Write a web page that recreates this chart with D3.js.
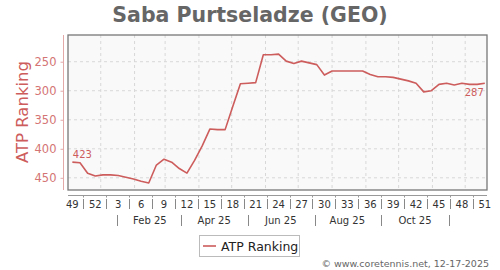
<!DOCTYPE html>
<html>
<head>
<meta charset="utf-8">
<script src="https://cdn.jsdelivr.net/npm/d3@7"></script>
<style>
    body { margin: 0; background: #fff; }
    svg { font-family: "DejaVu Sans", sans-serif; display: block; }
</style>
</head>
<body>
<div id="chart"></div>
<script>

// weekly ranking dates (plotted positions)
const dates = [
    "2024-12-06", "2024-12-13", "2024-12-20", "2024-12-27",
    "2025-01-03", "2025-01-10", "2025-01-17", "2025-01-24", "2025-01-31",
    "2025-02-07", "2025-02-14", "2025-02-21", "2025-02-28",
    "2025-03-07", "2025-03-14", "2025-03-21", "2025-03-28",
    "2025-04-04", "2025-04-11", "2025-04-18", "2025-04-25",
    "2025-05-02", "2025-05-09", "2025-05-16", "2025-05-23", "2025-05-30",
    "2025-06-06", "2025-06-13", "2025-06-20", "2025-06-27",
    "2025-07-04", "2025-07-11", "2025-07-18", "2025-07-25",
    "2025-08-01", "2025-08-08", "2025-08-15", "2025-08-22", "2025-08-29",
    "2025-09-05", "2025-09-12", "2025-09-19", "2025-09-26",
    "2025-10-03", "2025-10-10", "2025-10-17", "2025-10-24", "2025-10-31",
    "2025-11-07", "2025-11-14", "2025-11-21", "2025-11-28",
    "2025-12-05", "2025-12-12", "2025-12-19"
]

const rankings = [
    423, 424, 442, 447, 445, 445, 446, 449, 452, 456, 459, 428, 418, 423,
    434, 442, 420, 395, 366, 367, 367, 327, 288, 287, 286, 238, 238, 237,
    249, 253, 249, 252, 255, 273, 266, 266, 266, 266, 266, 272, 276, 276,
    277, 280, 283, 287, 302, 300, 289, 287, 290, 287, 289, 289, 287
]

const weekLabels = ["49", "52", "3", "6", "9", "12", "15", "18", "21", "24",
    "27", "30", "33", "36", "39", "42", "45", "48", "51"]

const monthLabels = ["Feb 25", "Apr 25", "Jun 25", "Aug 25", "Oct 25"]
const monthLabelDates = ["2025-02-15", "2025-04-15", "2025-06-15", "2025-08-15", "2025-10-16"]
const monthSeparators = ["2025-01-16", "2025-03-16", "2025-05-16", "2025-07-16", "2025-09-15", "2025-11-16"]

const yTicks = [250, 300, 350, 400, 450]

const parse = d3.timeParse("%Y-%m-%d")
const data = dates.map((d, i) => ({date: parse(d), value: rankings[i]}))

const width = 500, height = 270
const plot = {left: 68, right: 487, top: 35, bottom: 190}
const lineColor = '#cd5c5c'

const svg = d3.select('#chart').append('svg')
    .attr('width', width)
    .attr('height', height)

// scales
const x = d3.scaleTime()
    .domain([parse("2024-12-02"), parse("2025-12-21")])
    .range([plot.left, plot.right])

const y = d3.scaleLinear()
    .domain([204, 471])
    .range([plot.top, plot.bottom])

// title
svg.append('text')
    .attr('x', 250)
    .attr('y', 22)
    .attr('text-anchor', 'middle')
    .attr('font-size', 20.5)
    .attr('font-weight', 'bold')
    .attr('fill', '#666')
    .text('Saba Purtseladze (GEO)')

// plot background
svg.append('rect')
    .attr('x', plot.left)
    .attr('y', plot.top)
    .attr('width', plot.right - plot.left)
    .attr('height', plot.bottom - plot.top)
    .attr('fill', '#f9f9f9')

// grid lines
const monthStarts = d3.timeMonth.range(parse("2025-01-01"), parse("2025-12-02"))
svg.append('g').selectAll('line').data(monthStarts).enter().append('line')
    .attr('x1', d => x(d)).attr('x2', d => x(d))
    .attr('y1', plot.top).attr('y2', plot.bottom)
    .attr('stroke', '#d8d8d8')
    .attr('stroke-dasharray', '3,3')

svg.append('g').selectAll('line').data(yTicks).enter().append('line')
    .attr('x1', plot.left).attr('x2', plot.right)
    .attr('y1', d => y(d)).attr('y2', d => y(d))
    .attr('stroke', '#d8d8d8')
    .attr('stroke-dasharray', '3,3')

// plot border
svg.append('rect')
    .attr('x', plot.left)
    .attr('y', plot.top)
    .attr('width', plot.right - plot.left)
    .attr('height', plot.bottom - plot.top)
    .attr('fill', 'none')
    .attr('stroke', '#777')
    .attr('stroke-width', 1.3)

// y axis
const yAxis = svg.append('g')
    .attr('transform', `translate(63.5,0)`)
    .call(d3.axisLeft(y).tickValues(yTicks).tickSize(3).tickPadding(4))
yAxis.select('.domain').remove()
yAxis.append('line')
    .attr('y1', plot.top).attr('y2', plot.bottom)
    .attr('stroke', '#e3a9a9')
yAxis.selectAll('.tick line').attr('stroke', '#e3a9a9')
yAxis.selectAll('.tick text')
    .attr('font-family', '"DejaVu Sans", sans-serif')
    .attr('font-size', 11.5)
    .attr('fill', '#d47474')

svg.append('text')
    .attr('transform', `translate(28,112) rotate(-90)`)
    .attr('text-anchor', 'middle')
    .attr('font-size', 16.5)
    .attr('fill', lineColor)
    .text('ATP Ranking')

// x axis: week numbers
const weekDates = data.filter((d, i) => i % 3 === 0).map(d => d.date)
const axisY = 195.5

svg.append('line')
    .attr('x1', plot.left).attr('x2', plot.right)
    .attr('y1', axisY).attr('y2', axisY)
    .attr('stroke', '#999')

const xg = svg.append('g')
xg.selectAll('text').data(weekDates).enter().append('text')
    .attr('x', d => x(d))
    .attr('y', 207.5)
    .attr('text-anchor', 'middle')
    .attr('font-size', 10)
    .attr('fill', '#333')
    .text((d, i) => weekLabels[i])

// separators between week labels (half-way)
const weekSeps = weekDates.slice(1).map(d => d3.timeDay.offset(d, -10.5))
xg.selectAll('line.sep').data(weekSeps).enter().append('line')
    .attr('class', 'sep')
    .attr('x1', d => Math.round(x(d)) + 0.5).attr('x2', d => Math.round(x(d)) + 0.5)
    .attr('y1', 199).attr('y2', 209)
    .attr('stroke', '#888')
xg.selectAll('line.tk').data(weekSeps).enter().append('line')
    .attr('class', 'tk')
    .attr('x1', d => Math.round(x(d)) + 0.5).attr('x2', d => Math.round(x(d)) + 0.5)
    .attr('y1', axisY).attr('y2', axisY + 2)
    .attr('stroke', '#999')

// x axis: months
xg.selectAll('text.month').data(monthLabelDates).enter().append('text')
    .attr('class', 'month')
    .attr('x', d => x(parse(d)))
    .attr('y', 224)
    .attr('text-anchor', 'middle')
    .attr('font-size', 10)
    .attr('fill', '#333')
    .text((d, i) => monthLabels[i])

xg.selectAll('line.msep').data(monthSeparators).enter().append('line')
    .attr('class', 'msep')
    .attr('x1', d => Math.round(x(parse(d))) + 0.5).attr('x2', d => Math.round(x(parse(d))) + 0.5)
    .attr('y1', 215).attr('y2', 226)
    .attr('stroke', '#888')

// ranking line
const line = d3.line()
    .x(d => x(d.date))
    .y(d => y(d.value))

svg.append('path')
    .datum(data)
    .attr('d', line)
    .attr('fill', 'none')
    .attr('stroke', lineColor)
    .attr('stroke-width', 1.6)
    .attr('stroke-linejoin', 'round')

// first / last labels
const first = data[0], last = data[data.length - 1]
svg.append('text')
    .attr('x', x(first.date) + 0.5)
    .attr('y', y(first.value) - 4.5)
    .attr('font-size', 10)
    .attr('fill', lineColor)
    .text(first.value)

svg.append('text')
    .attr('x', x(last.date) - 1)
    .attr('y', y(last.value) + 13)
    .attr('text-anchor', 'end')
    .attr('font-size', 10)
    .attr('fill', lineColor)
    .text(last.value)

// legend
const legend = svg.append('g')
legend.append('rect')
    .attr('x', 199.5).attr('y', 235.5)
    .attr('width', 100).attr('height', 21)
    .attr('fill', '#fff')
    .attr('stroke', '#bbb')
legend.append('line')
    .attr('x1', 203).attr('x2', 216)
    .attr('y1', 246).attr('y2', 246)
    .attr('stroke', lineColor)
    .attr('stroke-width', 1.6)
legend.append('text')
    .attr('x', 221)
    .attr('y', 250.5)
    .attr('font-size', 12.5)
    .attr('fill', '#222')
    .text('ATP Ranking')

// copyright
svg.append('text')
    .attr('x', 489)
    .attr('y', 267)
    .attr('text-anchor', 'end')
    .attr('font-size', 9.5)
    .attr('fill', '#666')
    .text('© www.coretennis.net, 12-17-2025')

</script>
</body>
</html>
